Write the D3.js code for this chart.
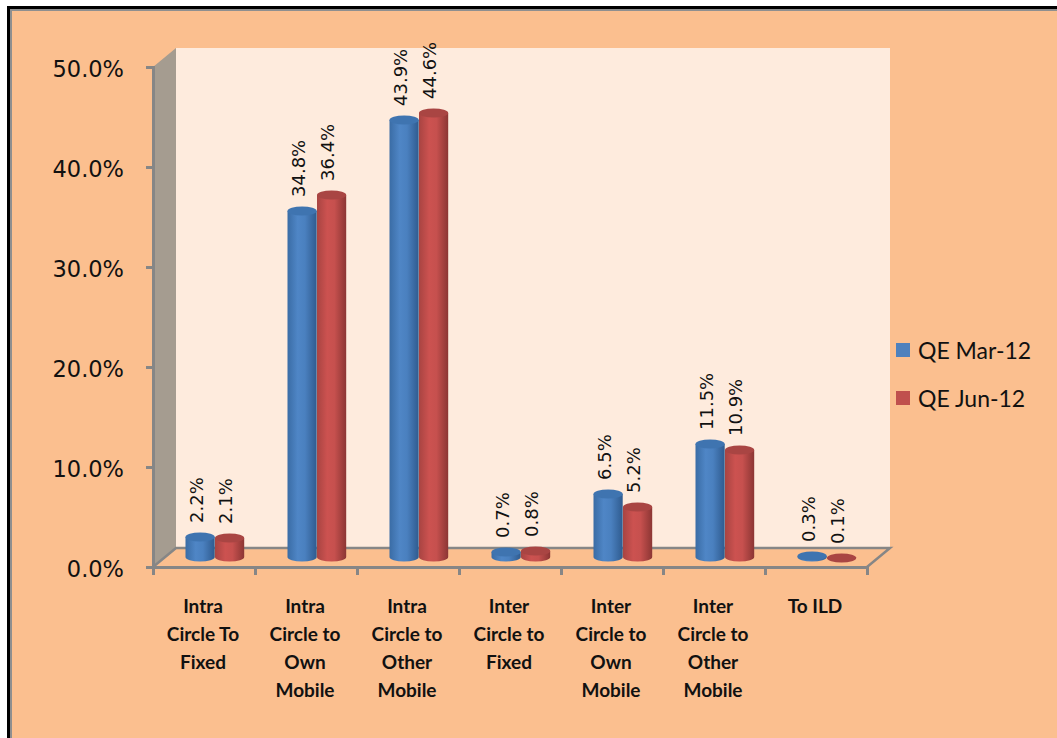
<!DOCTYPE html>
<html>
<head>
    <title>Outgoing Minutes Share</title>
    <script src="https://d3js.org/d3.v7.min.js"></script>
    <style>
        html, body { margin: 0; padding: 0; background: #fff; overflow: hidden; }
        svg { display: block; }
        .tick-y { font: 22.5px "DejaVu Sans", sans-serif; fill: #111; }
        .cat { font: 700 19px "Lato", sans-serif; fill: #111; }
        .val { font: 18px "DejaVu Sans", sans-serif; fill: #111; }
        .leg { font: 23px "Lato", sans-serif; fill: #111; }
    </style>
</head>
<body>
    <svg width="1057" height="738"></svg>
    <script>
        // data
        const categories = [
            ["Intra", "Circle To", "Fixed"],
            ["Intra", "Circle to", "Own", "Mobile"],
            ["Intra", "Circle to", "Other", "Mobile"],
            ["Inter", "Circle to", "Fixed"],
            ["Inter", "Circle to", "Own", "Mobile"],
            ["Inter", "Circle to", "Other", "Mobile"],
            ["To ILD"]
        ];
        const seriesNames = ["QE Mar-12", "QE Jun-12"];
        const mar12 = [2.2, 34.8, 43.9, 0.7, 6.5, 11.5, 0.3];
        const jun12 = [2.1, 36.4, 44.6, 0.8, 5.2, 10.9, 0.1];
        const yTicks = [0, 10, 20, 30, 40, 50];

        const svg = d3.select("svg");
        const axisCol = "#868686";
        const x0 = 153, x1 = 867, y0 = 567, y1 = 67;
        const depthX = 23, depthY = 19;   // 3d offset of the back wall

        const xScale = d3.scaleBand().domain(d3.range(categories.length)).range([x0, x1]);
        const yScale = d3.scaleLinear().domain([0, 50]).range([y0, y1]);
        const inner = d3.scaleBand().domain([0, 1]).range([0, 59]);

        // gradients for the cylinders
        const defs = svg.append("defs");
        function cylGrad(id, stops) {
            const g = defs.append("linearGradient").attr("id", id);
            stops.forEach(s => g.append("stop").attr("offset", s[0]).attr("stop-color", s[1]));
        }
        cylGrad("blueBody", [[0, "#3a6ca5"], [0.35, "#4f86c6"], [0.6, "#4a80bf"], [1, "#2f5b8f"]]);
        cylGrad("redBody", [[0, "#a84442"], [0.35, "#cc5250"], [0.6, "#c6504e"], [1, "#8c3634"]]);

        // page background and frame
        svg.append("rect").attr("x", 9).attr("y", 8).attr("width", 1048).attr("height", 730).attr("fill", "#fbbf8f");
        svg.append("path").attr("d", "M8.5,738V7.5H1057").attr("fill", "none").attr("stroke", "#000").attr("stroke-width", 3);
        svg.append("path").attr("d", "M11,738V10H1057").attr("fill", "none").attr("stroke", "#8f8f8f").attr("stroke-width", 2);

        // back wall, side wall, floor edges
        svg.append("rect")
            .attr("x", x0 + depthX).attr("y", y1 - depthY)
            .attr("width", x1 - x0).attr("height", y0 - y1)
            .attr("fill", "#feebdd");
        svg.append("path")
            .attr("d", d3.line()([[x0, y1], [x0 + depthX, y1 - depthY], [x0 + depthX, y0 - depthY], [x0, y0]]))
            .attr("fill", "#a59c90");
        svg.append("path")
            .attr("d", d3.line()([[x0, y0], [x0 + depthX, y0 - depthY], [x1 + depthX, y0 - depthY], [x1, y0]]))
            .attr("fill", "#fbbf8f")
            .attr("stroke", axisCol).attr("stroke-width", 2.5);

        // axes
        const yAxis = svg.append("g")
            .attr("transform", `translate(${x0},0)`)
            .call(d3.axisLeft(yScale).tickValues(yTicks).tickSize(7).tickPadding(22).tickFormat(d => d.toFixed(1) + "%"));
        yAxis.selectAll("path, line").attr("stroke", axisCol).attr("stroke-width", 3);
        yAxis.selectAll("text").attr("class", "tick-y").attr("fill", null).attr("font-size", null).attr("font-family", null).attr("dy", "0.42em");

        const edgeScale = d3.scaleLinear().domain([0, categories.length]).range([x0, x1]);
        const xAxis = svg.append("g")
            .attr("transform", `translate(0,${y0})`)
            .call(d3.axisBottom(edgeScale).ticks(categories.length).tickSize(8).tickFormat(""));
        xAxis.selectAll("path, line").attr("stroke", axisCol).attr("stroke-width", 3);

        // cylinders
        const baseY = y0 - 10, rx = 14.6, ry = 4.5;
        const series = [
            {name: seriesNames[0], values: mar12, body: "url(#blueBody)", top: "#3f74b0"},
            {name: seriesNames[1], values: jun12, body: "url(#redBody)", top: "#a94543"}
        ];
        const shift = xScale.bandwidth() / 2 - 59 / 2 + 11;

        series.forEach((s, si) => {
            const g = svg.append("g");
            s.values.forEach((v, i) => {
                const left = xScale(i) + shift + inner(si);
                const h = y0 - yScale(v);
                const topY = baseY - h + 2; // tops sit a little lower than the axis reads
                const cyl = g.append("g");
                cyl.append("path")
                    .attr("d", `M${left},${topY}V${baseY}A${rx},${ry} 0 0 0 ${left + 2 * rx},${baseY}V${topY}Z`)
                    .attr("fill", s.body);
                cyl.append("ellipse")
                    .attr("cx", left + rx).attr("cy", topY)
                    .attr("rx", rx).attr("ry", ry)
                    .attr("fill", s.top);
                svg.append("text")
                    .attr("class", "val")
                    .attr("transform", `translate(${left + rx - 4},${topY - 14}) rotate(-90)`)
                    .attr("dominant-baseline", "central")
                    .text(v.toFixed(1) + "%");
            });
        });

        // category labels
        categories.forEach((lines, i) => {
            const t = svg.append("text")
                .attr("class", "cat")
                .attr("text-anchor", "middle");
            lines.forEach((l, k) => {
                t.append("tspan")
                    .attr("x", xScale(i) + xScale.bandwidth() / 2 - 1)
                    .attr("y", 613 + k * 28)
                    .text(l);
            });
        });

        // legend
        const legCols = ["#4f81bd", "#c0504d"];
        seriesNames.forEach((n, i) => {
            const ly = 343 + i * 48;
            svg.append("rect").attr("x", 896).attr("y", ly).attr("width", 14).attr("height", 14).attr("fill", legCols[i]);
            svg.append("text").attr("class", "leg").attr("x", 918).attr("y", ly + 16).text(n);
        });
    </script>
</body>
</html>
